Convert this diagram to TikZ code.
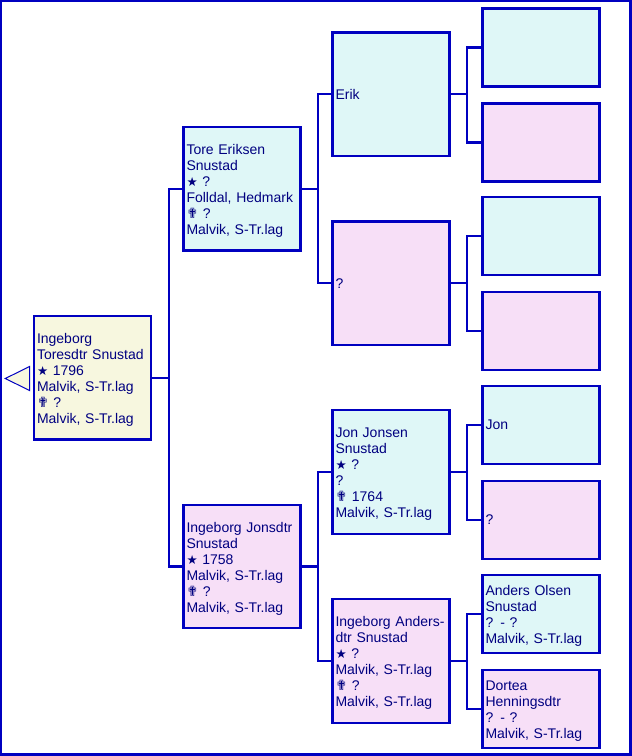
\documentclass[tikz,border=0pt]{standalone}
\usepackage{fontspec}
\setmainfont{Liberation Sans}
\newfontfamily\symf{DejaVu Sans}
\definecolor{lineblue}{HTML}{0000C0}
\definecolor{textblue}{HTML}{000080}
\definecolor{beigef}{HTML}{F7F7DF}
\definecolor{cyanf}{HTML}{DFF7F7}
\definecolor{pinkf}{HTML}{F7DFF7}
\newcommand{\bornsym}{{\symf\fontsize{12.5}{16}\selectfont ★}}
\newcommand{\diedsym}{{\symf\fontsize{14}{16}\selectfont ✟}}
\newcommand{\textfix}{\endgraf\vspace{-4pt}}
\begin{document}
\begin{tikzpicture}[x=1pt,y=-1pt,
  person/.style={draw=lineblue, line width=2.4pt, text=textblue, align=left,
    inner xsep=3pt, inner ysep=0pt, text width=111pt, minimum width=117pt,
    font=\fontsize{14}{16}\selectfont},
  multi/.style={execute at end node=\textfix},
  tall/.style={minimum height=123.5pt},
  short/.style={minimum height=78pt},
  male/.style={fill=cyanf},
  female/.style={fill=pinkf},
  conn/.style={draw=lineblue, line width=2.4pt}]
\useasboundingbox (0,0) rectangle (632,756);
\draw[lineblue, line width=2.4pt] (1.2,1.2) rectangle (630.5,754.5);
% triangle
\draw[draw=lineblue, fill=beigef, line width=1pt] (5.3,378.5) -- (29.5,366.5) -- (29.5,390.5) -- cycle;
% generation 0
\node[person, tall, multi, fill=beigef] (root) at (92.5,377.7) {Ingeborg\\Toresdtr Snustad\\\bornsym{} 1796\\Malvik, S-Tr.lag\\\diedsym{} ?\\Malvik, S-Tr.lag};
% generation 1
\node[person, tall, multi, male] (tore) at (242,188.7) {Tore Eriksen\\Snustad\\\bornsym{} ?\\Folldal, Hedmark\\\diedsym{} ?\\Malvik, S-Tr.lag};
\node[person, tall, multi, female] (ijon) at (242,566.5) {Ingeborg Jonsdtr\\Snustad\\\bornsym{} 1758\\Malvik, S-Tr.lag\\\diedsym{} ?\\Malvik, S-Tr.lag};
% generation 2
\node[person, tall, male] (erik) at (391,94.2) {Erik};
\node[person, tall, female] (toreq) at (391,283.2) {?};
\node[person, tall, multi, male] (jon) at (391,472) {Jon Jonsen\\Snustad\\\bornsym{} ?\\?\\\diedsym{} 1764\\Malvik, S-Tr.lag};
\node[person, tall, multi, female] (inga) at (391,661) {Ingeborg Anders-\\dtr Snustad\\\bornsym{} ?\\Malvik, S-Tr.lag\\\diedsym{} ?\\Malvik, S-Tr.lag};
% generation 3
\node[person, short, male] (g1) at (541,47.3) {};
\node[person, short, female] (g2) at (541,142.3) {};
\node[person, short, male] (g3) at (541,236.2) {};
\node[person, short, female] (g4) at (541,331) {};
\node[person, short, male] (g5) at (541,425) {Jon};
\node[person, short, female] (g6) at (541,520) {?};
\node[person, short, multi, male] (g7) at (541,614) {Anders Olsen\\Snustad\\? - ?\\Malvik, S-Tr.lag};
\node[person, short, multi, female] (g8) at (541,709) {Dortea\\Henningsdtr\\? - ?\\Malvik, S-Tr.lag};
% connectors
\draw[conn] (root.east) -- ++(16.5,0) coordinate (j0) |- (tore.west);
\draw[conn] (j0) |- (ijon.west);
\draw[conn] (tore.east) -- ++(16.5,0) coordinate (j1) |- (erik.west);
\draw[conn] (j1) |- (toreq.west);
\draw[conn] (ijon.east) -- ++(16.5,0) coordinate (j2) |- (jon.west);
\draw[conn] (j2) |- (inga.west);
\draw[conn] (erik.east) -- ++(16,0) coordinate (j3) |- (g1.west);
\draw[conn] (j3) |- (g2.west);
\draw[conn] (toreq.east) -- ++(16,0) coordinate (j4) |- (g3.west);
\draw[conn] (j4) |- (g4.west);
\draw[conn] (jon.east) -- ++(16,0) coordinate (j5) |- (g5.west);
\draw[conn] (j5) |- (g6.west);
\draw[conn] (inga.east) -- ++(16,0) coordinate (j6) |- (g7.west);
\draw[conn] (j6) |- (g8.west);
\end{tikzpicture}
\end{document}
